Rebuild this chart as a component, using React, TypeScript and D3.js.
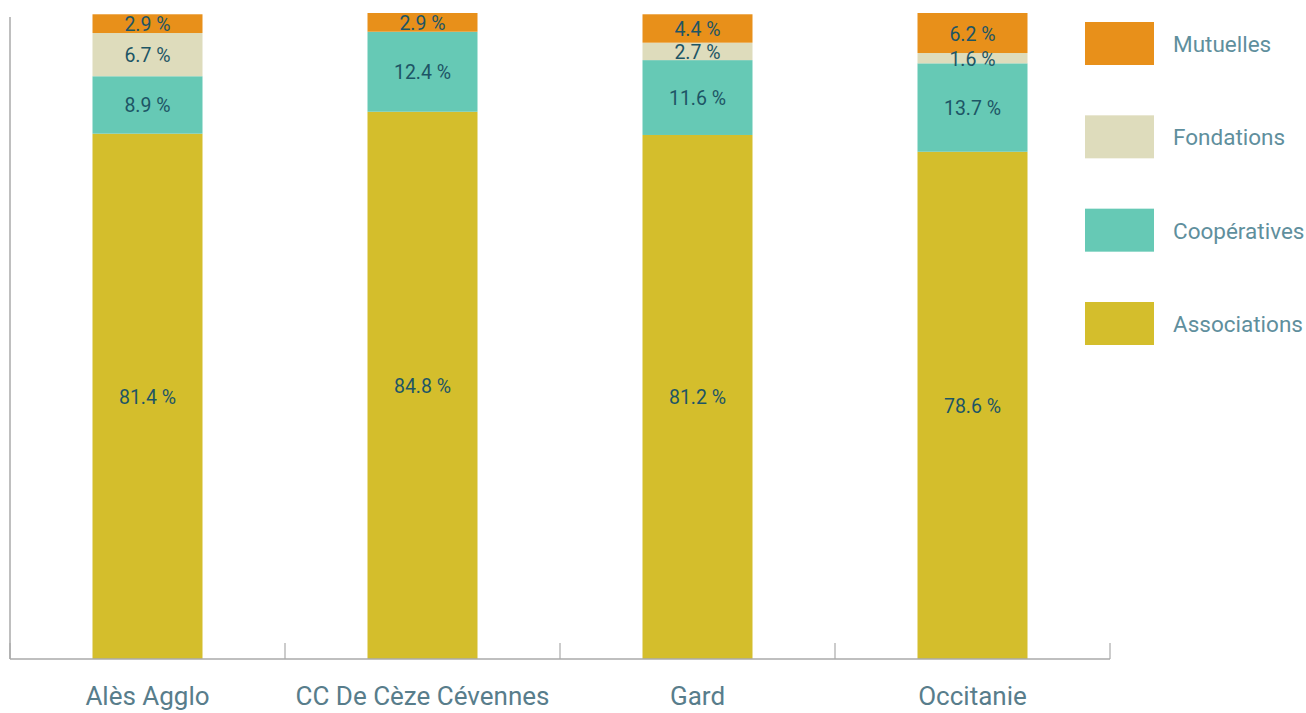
import React from "react";
import * as d3 from "d3";

const categories = ["Alès Agglo", "CC De Cèze Cévennes", "Gard", "Occitanie"];
const seriesNames = ["Associations", "Coopératives", "Fondations", "Mutuelles"];
const associations = [81.4, 84.8, 81.2, 78.6];
const cooperatives = [8.9, 12.4, 11.6, 13.7];
const fondations = [6.7, 0, 2.7, 1.6];
const mutuelles = [2.9, 2.9, 4.4, 6.2];
const colors = ["#D4BE2C", "#66C9B5", "#DEDCBC", "#E8901A"];
const legendOrder = ["Mutuelles", "Fondations", "Coopératives", "Associations"];

const W = 1306;
const H = 713;
const FONT = "Roboto, 'Noto Sans', sans-serif";

export default function App() {
  const rows = categories.map((c, i) => ({
    cat: c,
    Associations: associations[i],
    "Coopératives": cooperatives[i],
    Fondations: fondations[i],
    Mutuelles: mutuelles[i],
  }));
  const stack = d3.stack<any>().keys(seriesNames)(rows);
  const maxTotal = d3.max(rows, (r) => seriesNames.reduce((s, k) => s + r[k], 0)) as number;

  const x = d3.scaleBand().domain(categories).range([10, 1110]).paddingInner(0.6).paddingOuter(0.3);
  const y = d3.scaleLinear().domain([0, maxTotal]).range([659, 13]);
  const color = d3.scaleOrdinal<string, string>().domain(seriesNames).range(colors);
  const step = x.step();
  const tickXs = d3.range(categories.length + 1).map((i) => 10 + i * step);

  const legendY = d3.scalePoint().domain(legendOrder).range([22, 302]);

  return (
    <svg width={W} height={H} style={{ position: "absolute", left: 0, top: 0, display: "block" }}>
      <rect width={W} height={H} fill="#ffffff" />
      {stack.map((layer) => (
        <g key={layer.key}>
          {layer.map((d, i) => {
            const v = d[1] - d[0];
            if (v <= 0) return null;
            return (
              <rect
                key={i}
                x={x(categories[i])}
                y={y(d[1])}
                width={x.bandwidth()}
                height={y(d[0]) - y(d[1])}
                fill={color(layer.key)}
              />
            );
          })}
        </g>
      ))}
      {stack.map((layer) => (
        <g key={layer.key + "-lbl"}>
          {layer.map((d, i) => {
            const v = d[1] - d[0];
            if (v <= 0) return null;
            return (
              <text
                key={i}
                x={(x(categories[i]) as number) + x.bandwidth() / 2}
                y={(y(d[0]) + y(d[1])) / 2 + 1}
                textAnchor="middle"
                dominantBaseline="central"
                fontFamily={FONT}
                fontSize={19.5}
                fill="#1D5565"
              >
                {`${v.toFixed(1)} %`}
              </text>
            );
          })}
        </g>
      ))}
      <line x1={10} x2={10} y1={17} y2={659} stroke="#aaaaaa" strokeWidth={1.5} />
      <line x1={10} x2={1110} y1={659} y2={659} stroke="#aaaaaa" strokeWidth={1.5} />
      {tickXs.map((tx, i) => (
        <line key={i} x1={tx} x2={tx} y1={643} y2={659} stroke="#aaaaaa" strokeWidth={1.2} />
      ))}
      {categories.map((c) => (
        <text
          key={c}
          x={(x(c) as number) + x.bandwidth() / 2}
          y={705}
          textAnchor="middle"
          fontFamily={FONT}
          fontSize={26}
          fill="#587D8B"
        >
          {c}
        </text>
      ))}
      {legendOrder.map((k) => (
        <g key={k} transform={`translate(1085,${legendY(k)})`}>
          <rect width={69} height={43} fill={color(k)} />
          <text
            x={88}
            y={22}
            dominantBaseline="central"
            fontFamily={FONT}
            fontSize={22.5}
            fill="#5F8F9D"
          >
            {k}
          </text>
        </g>
      ))}
    </svg>
  );
}
